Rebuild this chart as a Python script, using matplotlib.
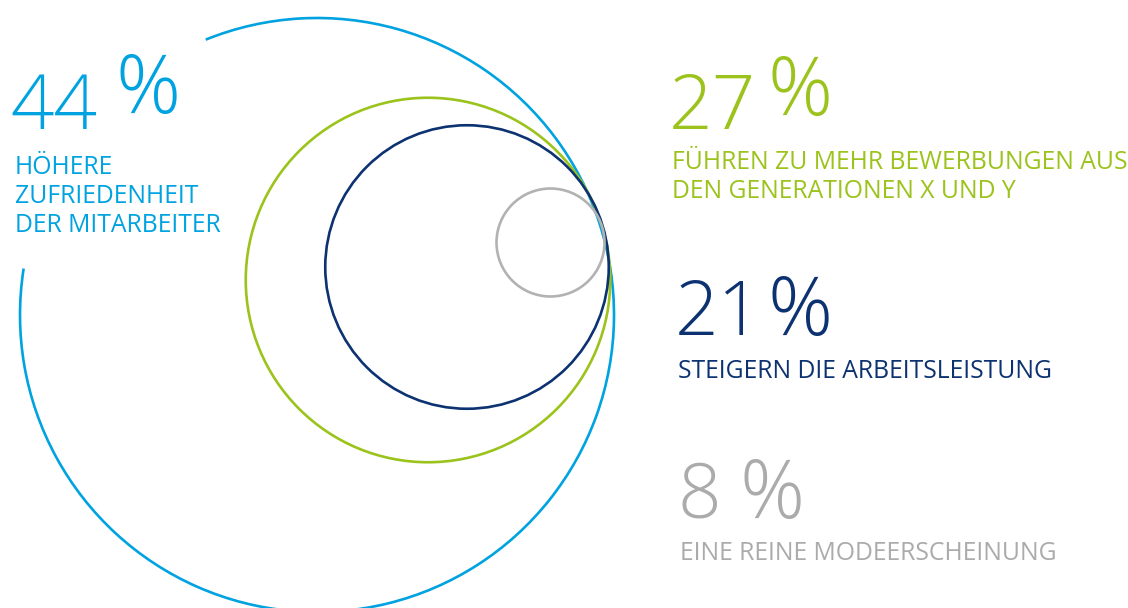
import matplotlib.pyplot as plt
from matplotlib.patches import Arc, Circle

# data
values = [44, 27, 21, 8]
value_text = ['44', '27', '21', '8']
labels = ['HÖHERE\nZUFRIEDENHEIT\nDER MITARBEITER',
          'FÜHREN ZU MEHR BEWERBUNGEN AUS\nDEN GENERATIONEN X UND Y',
          'STEIGERN DIE ARBEITSLEISTUNG',
          'EINE REINE MODEERSCHEINUNG']

# styles / layout (pixel coords, y from top)
colors = ['#00a3e0', '#9bc31b', '#0d3271', '#b2b2b2']
text_colors = ['#00a3e0', '#9bc31b', '#0d3271', '#ababab']
centers = [(317, 315), (428, 280), (467, 267), (550.5, 242.5)]
px_per_pct = 6.75
num_pos = [(10, 129), (669, 129), (675, 335), (678, 518)]
pct_pos = [(115, 113), (768, 115), (768, 335), (740, 518)]
label_pos = [(15, 174), (672, 169), (678, 378), (680, 560)]

FONT = ['Open Sans', 'DejaVu Sans']

fig = plt.figure(figsize=(11.28, 6.08), dpi=100)
ax = fig.add_axes([0, 0, 1, 1])
ax.set_xlim(0, 1128)
ax.set_ylim(608, 0)
ax.axis('off')

for i, v in enumerate(values):
    r = v * px_per_pct
    if i == 0:
        # outer ring has a gap at the upper left (angles mirrored, y is inverted)
        ax.add_patch(Arc(centers[i], 2 * r, 2 * r, theta1=248, theta2=549,
                         color=colors[i], lw=1.9))
    else:
        ax.add_patch(Circle(centers[i], r, fill=False, ec=colors[i], lw=1.9))

    ax.text(num_pos[i][0], num_pos[i][1], value_text[i], color=text_colors[i],
            fontsize=55, family=FONT, fontweight='light', ha='left', va='baseline')
    ax.text(pct_pos[i][0], pct_pos[i][1], '%', color=text_colors[i],
            fontsize=58, family=FONT, fontweight='light', ha='left', va='baseline')
    for j, line in enumerate(labels[i].split('\n')):
        ax.text(label_pos[i][0], label_pos[i][1] + j * 29, line, color=text_colors[i],
                fontsize=17.8, family=FONT, ha='left', va='baseline')

plt.savefig('out.png', dpi=100)
